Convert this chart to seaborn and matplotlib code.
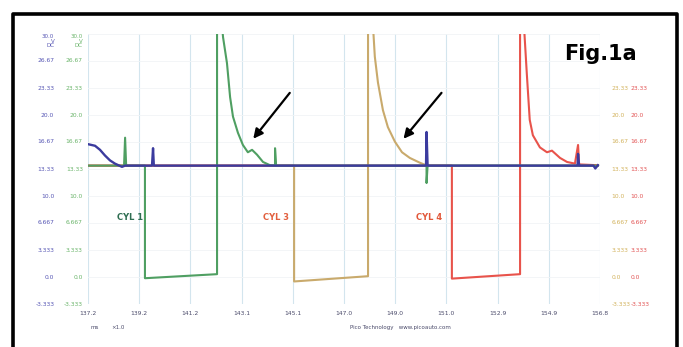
import numpy as np
import pandas as pd
import matplotlib
matplotlib.use("Agg")
import matplotlib.pyplot as plt
import matplotlib.transforms as mtransforms
import seaborn as sns

# y scale labels (same for all four channels)
y_ticks = [30.0, 26.67, 23.33, 20.0, 16.67, 13.33, 10.0, 6.667, 3.333, 0.0, -3.333]
y_labels = ["30.0", "26.67", "23.33", "20.0", "16.67", "13.33", "10.0", "6.667", "3.333", "0.0", "-3.333"]

# time axis (ms)
x_ticks = [137.2, 139.16, 141.12, 143.08, 145.04, 147.0, 148.96, 150.92, 152.88, 154.84, 156.8]
x_labels = ["137.2", "139.2", "141.2", "143.1", "145.1", "147.0", "149.0", "151.0", "152.9", "154.9", "156.8"]

# channel A - battery / supply voltage
blue_t = [137.20, 137.47, 137.66, 137.85, 138.04, 138.23, 138.50, 138.62, 139.65, 139.69, 139.72,
          150.14, 150.16, 150.20, 155.94, 155.96, 156.00, 156.55, 156.62, 156.72]
blue_v = [16.4, 16.2, 15.7, 15.0, 14.4, 14.0, 13.6, 13.75, 13.75, 15.9, 13.75,
          13.75, 17.9, 13.75, 13.75, 15.2, 13.75, 13.75, 13.4, 13.8]

# channel B - CYL 1 injector
green_t = [137.20, 138.58, 138.62, 138.66, 139.38, 139.38, 142.14, 142.14, 142.33, 142.37, 142.52,
           142.64, 142.75, 142.94, 143.13, 143.32, 143.48, 143.67, 143.90, 144.17, 144.36, 144.36,
           144.40, 150.16, 150.16, 150.20, 156.72]
green_v = [13.75, 13.75, 17.2, 13.75, 13.75, -0.15, 0.35, 31.0, 31.0, 29.6, 26.4,
           22.2, 19.8, 17.8, 16.3, 15.4, 15.7, 15.1, 14.2, 13.8, 13.75, 15.9,
           13.75, 13.75, 11.6, 13.75, 13.75]

# channel C - CYL 3 injector
tan_t = [137.20, 145.09, 145.09, 147.92, 147.92, 148.11, 148.18, 148.30, 148.49, 148.68,
         148.95, 149.22, 149.52, 149.91, 150.18, 156.72]
tan_v = [13.75, 13.75, -0.55, 0.1, 31.0, 31.0, 27.2, 24.0, 20.6, 18.5,
         16.7, 15.4, 14.7, 14.1, 13.75, 13.75]

# channel D - CYL 4 injector
red_t = [137.20, 151.13, 151.13, 153.74, 153.74, 153.89, 154.00, 154.11, 154.23, 154.50,
         154.77, 154.96, 155.27, 155.54, 155.84, 155.96, 156.00, 156.72]
red_v = [13.75, 13.75, -0.2, 0.35, 31.0, 31.0, 25.0, 19.4, 17.5, 16.0,
         15.4, 15.6, 14.7, 14.2, 14.0, 16.3, 13.9, 13.8]

colors = {"blue": "#3b3b9e", "green": "#4f9f62", "tan": "#c9aa6c", "red": "#e8534b"}
label_colors = {"blue": "#5656b4", "green": "#6ab46a", "tan": "#d2b25c", "red": "#e25454"}

fig = plt.figure(figsize=(6.83, 3.47), dpi=100)
W, H = 683, 347
ax = fig.add_axes([88 / W, 1 - 304 / H, 512 / W, 270 / H])

# grid first, traces on top
for xt in x_ticks:
    ax.axvline(xt, color="#d3e5ee", lw=0.8, zorder=0)
for yt in y_ticks:
    ax.axhline(yt, color="#f1f4f6", lw=0.6, zorder=0)

# tan and red under green, supply trace on top of everything
for z, (name, t, v) in enumerate([("tan", tan_t, tan_v), ("red", red_t, red_v),
                                   ("green", green_t, green_v), ("blue", blue_t, blue_v)]):
    sns.lineplot(x=t, y=v, color=colors[name], sort=False, estimator=None,
                 linewidth=1.7 if name == "blue" else 1.5, ax=ax, zorder=2 + z)

ax.set_xlim(137.2, 156.8)
ax.set_ylim(-3.333, 30.0)
for s in ax.spines.values():
    s.set_visible(False)
ax.set_xlabel("")
ax.set_ylabel("")
ax.set_yticks([])
ax.set_xticks(x_ticks)
ax.set_xticklabels(x_labels, fontsize=4.3, color="#4a4a6a")
ax.tick_params(axis="x", length=0, pad=5)

# channel scales, left and right
tr = mtransforms.blended_transform_factory(ax.transAxes, ax.transData)
for yt, lab in zip(y_ticks, y_labels):
    if yt == 30.0:
        for xa, c in [(-0.066, "blue"), (-0.010, "green")]:
            ax.text(xa, yt, "30.0\nV\nDC", transform=tr, ha="right", va="top",
                    fontsize=4.0, color=label_colors[c], linespacing=0.9)
        continue
    ax.text(-0.066, yt, lab, transform=tr, ha="right", va="center", fontsize=4.3,
            color=label_colors["blue"])
    ax.text(-0.010, yt, lab, transform=tr, ha="right", va="center", fontsize=4.3,
            color=label_colors["green"])
    if yt <= 23.33:
        ax.text(1.022, yt, lab, transform=tr, ha="left", va="center", fontsize=4.3,
                color=label_colors["tan"])
        ax.text(1.060, yt, lab, transform=tr, ha="left", va="center", fontsize=4.3,
                color=label_colors["red"])

ax.text(0.005, -0.078, "ms", transform=ax.transAxes, fontsize=4.0, color="#4a4a6a", va="top")
ax.text(0.045, -0.078, "\u00d71.0", transform=ax.transAxes, fontsize=4.0, color="#4a4a6a", va="top")
ax.text(0.61, -0.078, "Pico Technology   www.picoauto.com", transform=ax.transAxes,
        fontsize=4.0, color="#4a4a6a", va="top", ha="center")

# cylinder labels
ax.text(138.8, 7.3, "CYL 1", fontsize=6, fontweight="bold", color="#2f6e52", ha="center", va="center")
ax.text(144.4, 7.3, "CYL 3", fontsize=6, fontweight="bold", color="#e2603f", ha="center", va="center")
ax.text(150.25, 7.3, "CYL 4", fontsize=6, fontweight="bold", color="#e2583a", ha="center", va="center")

# arrows pointing at the decay bumps
ax.annotate("", xy=(143.46, 16.8), xytext=(144.99, 23.0),
            arrowprops=dict(arrowstyle="-|>", color="black", lw=1.6, mutation_scale=14))
ax.annotate("", xy=(149.21, 16.8), xytext=(150.80, 23.0),
            arrowprops=dict(arrowstyle="-|>", color="black", lw=1.6, mutation_scale=14))

fig.text(600 / W, 1 - 54 / H, "Fig.1a", fontsize=15, fontweight="heavy",
         color="black", ha="center", va="center", family="DejaVu Sans")

# frame round the capture (open at the bottom)
fig.add_artist(plt.Line2D([13 / W, 13 / W, 677 / W, 677 / W], [0, 1 - 14 / H, 1 - 14 / H, 0],
                          transform=fig.transFigure, color="black", lw=2.6))

fig.savefig("out.png", dpi=100)
